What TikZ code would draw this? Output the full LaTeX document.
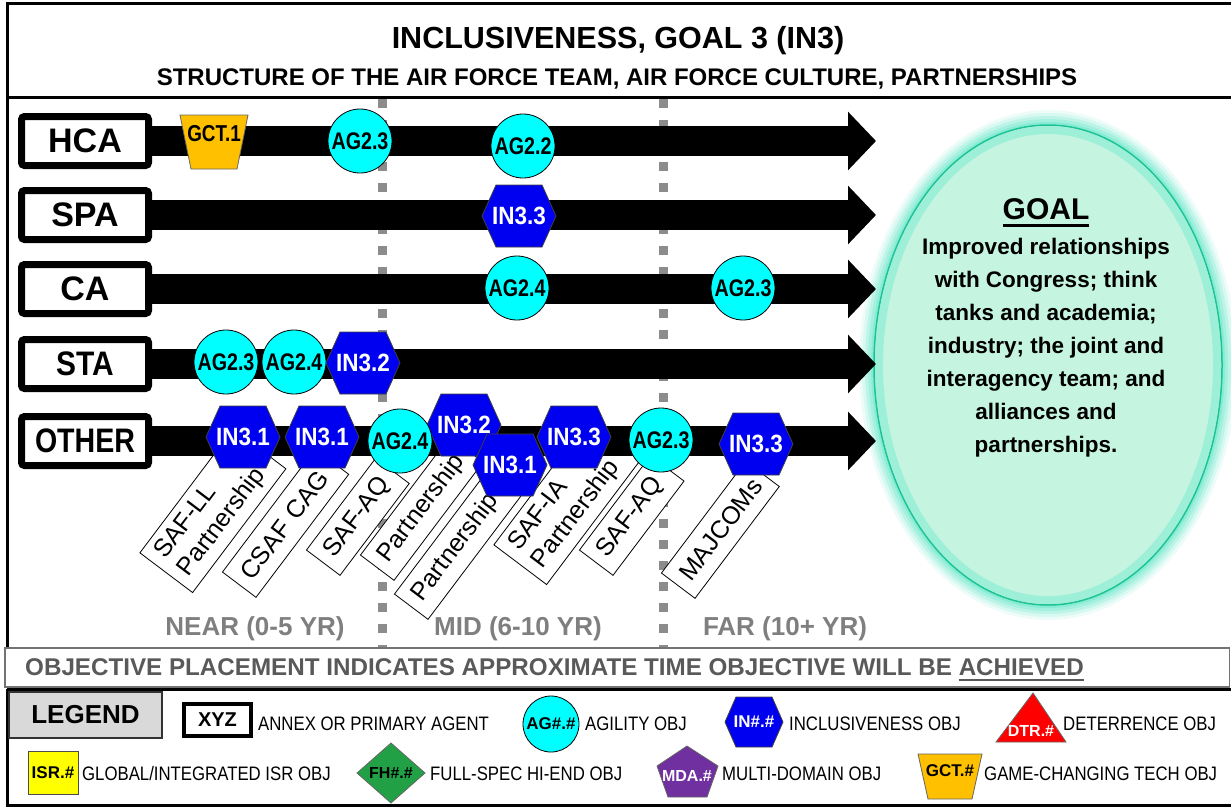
\documentclass[tikz,border=0pt]{standalone}
\usepackage{fontspec}
\setmainfont{Liberation Sans}
\usetikzlibrary{arrows.meta,shapes.geometric}
\definecolor{agcyan}{HTML}{00FFFF}
\definecolor{inblue}{HTML}{0000F0}
\definecolor{gctor}{HTML}{FFC000}
\definecolor{dashg}{HTML}{8C8C8C}
\definecolor{txtg}{HTML}{7F7F7F}
\definecolor{objg}{HTML}{595959}
\definecolor{goalfill}{HTML}{C5F5E1}
\definecolor{goalline}{HTML}{1CC394}
\definecolor{goalglow}{HTML}{6FE8CB}
\definecolor{legg}{HTML}{D9D9D9}
\definecolor{fhgreen}{HTML}{22A045}
\definecolor{mdapur}{HTML}{7030A0}
\definecolor{isryel}{HTML}{FFFF00}
\definecolor{dtrred}{HTML}{FF0000}
\newcommand\fs[1]{\fontsize{#1}{#1}\selectfont}
\newcommand\sx[2]{\scalebox{#1}[1]{#2}}
\newsavebox\ulbox
\newcommand\myul[3]{\sbox\ulbox{#3}\rlap{\rule[-#1]{\wd\ulbox}{#2}}\usebox\ulbox}
\newcommand\hexat[4]{%
  \filldraw[hexbody] (#2-37,#3) -- (#2-23,#3-31) -- (#2+23,#3-31) -- (#2+37,#3) -- (#2+23,#3+31) -- (#2-23,#3+31) -- cycle;
  \node[hext] (#1) at (#2,#3) {\sx{0.9}{#4}};}
\tikzset{
  agent/.style={draw, line width=7pt, rounded corners=3pt, minimum width=127pt, minimum height=49pt, inner sep=0pt, font=\bfseries\fs{34}},
  bar/.style={line width=30pt, -{Triangle[width=57pt,length=28pt]}},
  agc/.style={circle, draw, line width=0.8pt, fill=agcyan, minimum size=64pt, inner sep=0pt, font=\bfseries\fs{24}},
  hexbody/.style={fill=inblue, draw=black!75, line width=0.8pt},
  hext/.style={text=white, font=\bfseries\fs{25}, inner sep=0pt},
  lab/.style={draw, fill=white, line width=0.8pt, rotate=53, anchor=west, inner xsep=10pt, inner ysep=0pt, align=left, minimum height=42pt, font=\fontsize{25}{29}\selectfont},
  period/.style={text=txtg, font=\bfseries\fs{26}, anchor=base, inner sep=0pt},
  legt/.style={font=\fs{19.5}, inner sep=0pt, anchor=base west},
  timeline/.style={dashg, line width=9pt, dash pattern=on 9pt off 12pt},
  frame/.style={line width=3pt}
}
\begin{document}
\begin{tikzpicture}[x=1pt,y=-1pt]
\useasboundingbox (0,0) rectangle (1231,807);
% frame and title
\draw[frame] (7,648) -- (7,3) -- (1231,3);
\draw[frame] (7,97) -- (1231,97);
\node[font=\bfseries\fs{30.5}, anchor=base, inner sep=0pt] (title) at (618,48) {INCLUSIVENESS, GOAL 3 (IN3)};
\node[font=\bfseries\fs{24}, anchor=base, inner sep=0pt] (subtitle) at (617,85) {STRUCTURE OF THE AIR FORCE TEAM, AIR FORCE CULTURE, PARTNERSHIPS};
% time lines
\draw[timeline] (382,99) -- (382,648);
\draw[timeline] (663,99) -- (663,648);
% goal ellipse
\foreach \r/\o in {15/0.12, 12/0.18, 9/0.25, 6/0.35, 3/0.5}
  \fill[goalglow, opacity=\o] (1048,365) ellipse [x radius=174pt+\r pt, y radius=240pt+\r pt];
\node[ellipse, minimum width=348pt, minimum height=480pt, inner sep=0pt, fill=goalfill, draw=goalline, line width=1.5pt] (goal) at (1048,365) {};
\draw[goalglow, line width=8pt, opacity=0.45] (1048,365) ellipse [x radius=169pt, y radius=235pt];
\node[font=\bfseries\fs{30}, anchor=base, inner sep=0pt] (goalhd) at (1046,219) {\myul{8pt}{3pt}{GOAL}};
\node[font=\bfseries\fontsize{22.5}{33}\selectfont, align=center, anchor=base, inner sep=0pt] (goaltx) at (1046,452) {Improved relationships\\with Congress; think\\tanks and academia;\\industry; the joint and\\interagency team; and\\alliances and\\partnerships.};
% label boxes
\node[lab, text width=135pt, minimum height=66pt] (l1) at (166,573) {SAF-LL\\Partnership};
\node[lab, text width=134pt] (l2) at (239,585) {CSAF~CAG};
\node[lab, text width=95pt] (l3) at (323,563) {SAF-AQ};
\node[lab, text width=128pt] (l4) at (377,568) {Partnership};
\node[lab, text width=135pt] (l5) at (411,607) {Partnership};
\node[lab, text width=135pt, minimum height=66pt] (l6) at (520,565) {SAF-IA\\Partnership};
\node[lab, text width=98pt] (l7) at (596,563) {SAF-AQ};
\node[lab, text width=120pt] (l8) at (678,586) {MAJCOMs};
% agents
\node[agent] (hca) at (85,141) {HCA};
\node[agent] (spa) at (85,215) {SPA};
\node[agent] (ca) at (85,289) {CA};
\node[agent] (sta) at (85,364) {\sx{0.88}{STA}};
\node[agent] (oth) at (85,441) {\sx{0.84}{OTHER}};
\coordinate (hcaE) at (876,141);
\coordinate (spaE) at (876,215);
\coordinate (caE) at (876,289);
\coordinate (staE) at (876,364);
\coordinate (othE) at (876,441);
\draw[bar] (hca.east) -- (hcaE);
\draw[bar] (spa.east) -- (spaE);
\draw[bar] (ca.east) -- (caE);
\draw[bar] (sta.east) -- (staE);
\draw[bar] (oth.east) -- (othE);
% HCA row
\filldraw[fill=gctor, draw=black!60, line width=0.8pt] (180,115) -- (248,115) -- (237,169) -- (191,169) -- cycle;
\node[font=\bfseries\fs{23}, inner sep=0pt] (gct1) at (214,134) {\sx{0.82}{GCT.1}};
\node[agc] (hag23) at (360,141) {\sx{0.82}{AG2.3}};
\node[agc] (hag22) at (523,146) {\sx{0.82}{AG2.2}};
% SPA row
\hexat{sin33}{519}{216}{IN3.3}
% CA row
\node[agc] (cag24) at (517,288) {\sx{0.82}{AG2.4}};
\node[agc] (cag23) at (743,288) {\sx{0.82}{AG2.3}};
% STA row
\node[agc] (sag23) at (226,362) {\sx{0.82}{AG2.3}};
\node[agc] (sag24) at (294,362) {\sx{0.82}{AG2.4}};
\hexat{sin32}{363}{363}{IN3.2}
% OTHER row
\hexat{oin31a}{243}{437}{IN3.1}
\hexat{oin31b}{322}{437}{IN3.1}
\hexat{oin32}{464}{425}{IN3.2}
\hexat{oin31c}{510}{465}{IN3.1}
\hexat{oin33a}{574}{437}{IN3.3}
\node[agc] (oag24) at (400,441) {\sx{0.82}{AG2.4}};
\node[agc] (oag23) at (661,440) {\sx{0.82}{AG2.3}};
\hexat{oin33b}{756}{444}{IN3.3}
% periods
\node[period] (near) at (255,635) {NEAR (0-5 YR)};
\node[period] (mid) at (518,635) {MID (6-10 YR)};
\node[period] (far) at (785,635) {FAR (10+ YR)};
% objective line
\draw[black!55, line width=1.2pt] (5,648) rectangle (1229.5,687);
\node[text=objg, font=\bfseries\fs{24.2}, anchor=base west, inner sep=0pt] (objtxt) at (25,675) {OBJECTIVE PLACEMENT INDICATES APPROXIMATE TIME OBJECTIVE WILL BE \myul{6pt}{2pt}{ACHIEVED}};
% legend frame
\draw[frame] (7,689) -- (1231,689);
\draw[frame] (7,689) -- (7,805) -- (1231,805);
\node[draw=black!80, fill=legg, line width=1.5pt, minimum width=153pt, minimum height=46pt, inner sep=0pt, font=\bfseries\fs{26}] (legend) at (85.5,715) {LEGEND};
\node[draw, line width=4pt, minimum width=67pt, minimum height=32pt, inner sep=0pt, font=\bfseries\fs{20}] (lxyz) at (217.5,720) {XYZ};
\node[legt] (tannex) at (258,730) {\sx{0.86}{ANNEX OR PRIMARY AGENT}};
\node[agc, minimum size=56pt, font=\bfseries\fs{17}] (lag) at (551,724) {AG\#.\#};
\node[legt] (tag) at (585,730) {\sx{0.86}{AGILITY OBJ}};
\filldraw[hexbody] (725,722) -- (736,697) -- (772,697) -- (783,722) -- (772,747) -- (736,747) -- cycle;
\node[hext, font=\bfseries\fs{17}] (lin) at (754,722) {IN\#.\#};
\node[legt] (tin) at (789,730) {\sx{0.86}{INCLUSIVENESS OBJ}};
\filldraw[fill=dtrred, draw=black!60, line width=0.8pt] (996,742) -- (1033,693) -- (1066,742) -- cycle;
\node[text=white, font=\bfseries\fs{16}, inner sep=0pt] (ldtr) at (1031,731) {DTR.\#};
\node[legt] (tdtr) at (1063,730) {\sx{0.86}{DETERRENCE OBJ}};
\node[fill=isryel, draw=black!70, line width=1pt, minimum width=50pt, minimum height=43pt, inner sep=0pt, font=\bfseries\fs{17}] (lisr) at (53,772.5) {ISR.\#};
\node[legt] (tisr) at (82,780) {\sx{0.86}{GLOBAL/INTEGRATED ISR OBJ}};
\filldraw[fill=fhgreen, draw=black!60, line width=0.8pt] (357,773) -- (391,743) -- (425,773) -- (391,803) -- cycle;
\node[font=\bfseries\fs{16}, inner sep=0pt] (lfh) at (391,773) {FH\#.\#};
\node[legt] (tfh) at (430,780) {\sx{0.86}{FULL-SPEC HI-END OBJ}};
\filldraw[fill=mdapur, draw=black!60, line width=0.8pt] (687,746) -- (718,766) -- (707,797) -- (668,797) -- (657,766) -- cycle;
\node[text=white, font=\bfseries\fs{16}, inner sep=0pt] (lmda) at (687,776) {MDA.\#};
\node[legt] (tmda) at (722,780) {\sx{0.86}{MULTI-DOMAIN OBJ}};
\filldraw[fill=gctor, draw=black!60, line width=0.8pt] (918,754) -- (982,754) -- (972,799) -- (928,799) -- cycle;
\node[font=\bfseries\fs{17}, inner sep=0pt] (lgct) at (950,771) {GCT.\#};
\node[legt] (tgct) at (984,780) {\sx{0.86}{GAME-CHANGING TECH OBJ}};
\end{tikzpicture}
\end{document}
